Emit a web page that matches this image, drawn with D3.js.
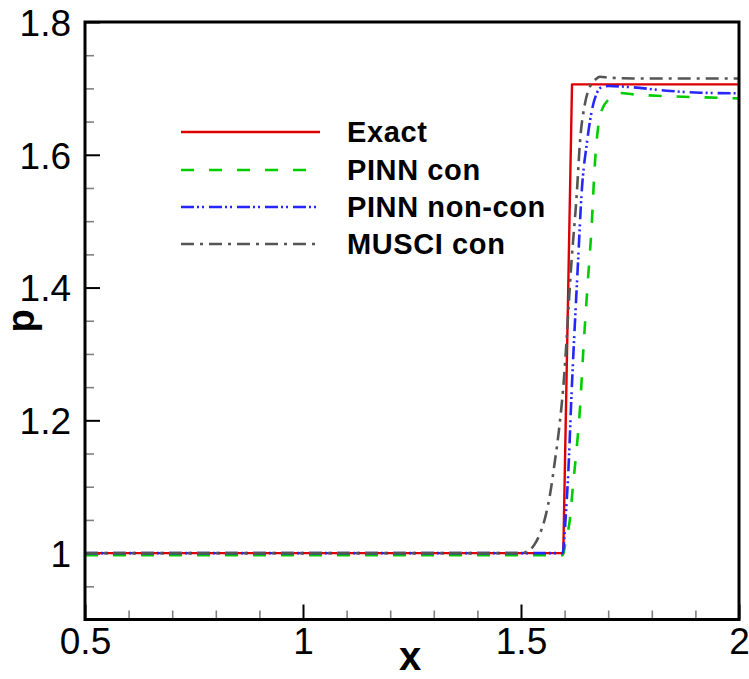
<!DOCTYPE html>
<html>
<head>
<meta charset="utf-8">
<script src="https://cdn.jsdelivr.net/npm/d3@7"></script>
<style>
  html, body { margin: 0; padding: 0; background: #fff; }
  svg { display: block; }
  text { font-family: "Liberation Sans", Arial, sans-serif; }
</style>
</head>
<body>
<svg id="chart" width="749" height="679"></svg>
<script>
// Pressure across the shock: exact solution vs. PINN and MUSCl results
const exactX = [0.5, 1.597, 1.617, 2.0];
const exactP = [1.0, 1.0, 1.706, 1.706];

const pinnConX = [0.5, 1.596, 1.603, 1.612, 1.619, 1.628, 1.635, 1.643, 1.654, 1.662, 1.669, 1.677, 1.685, 1.704, 1.727, 1.757, 1.826, 1.911, 2.0];
const pinnConP = [0.997, 0.997, 1.02, 1.05, 1.10, 1.16, 1.215, 1.306, 1.416, 1.492, 1.582, 1.642, 1.667, 1.685, 1.693, 1.691, 1.6885, 1.6866, 1.685];

const pinnNonX = [0.5, 1.596, 1.599, 1.603, 1.608, 1.616, 1.631, 1.639, 1.651, 1.662, 1.674, 1.685, 1.700, 1.757, 1.834, 1.911, 2.0];
const pinnNonP = [1.0, 1.0, 1.02, 1.06, 1.115, 1.241, 1.441, 1.542, 1.617, 1.665, 1.693, 1.702, 1.7036, 1.7016, 1.6965, 1.6935, 1.6926];

const musclX = [0.5, 1.50, 1.513, 1.53, 1.544, 1.556, 1.567, 1.577, 1.587, 1.597, 1.616, 1.628, 1.635, 1.647, 1.658, 1.670, 1.681, 1.704, 1.757, 2.0];
const musclP = [1.0, 1.0, 1.002, 1.012, 1.03, 1.055, 1.09, 1.135, 1.185, 1.25, 1.441, 1.542, 1.617, 1.678, 1.7025, 1.713, 1.7176, 1.716, 1.715, 1.715];

const seriesNames = ["Exact", "PINN con", "PINN non-con", "MUSCI con"];
const xMajorTicks = [0.5, 1, 1.5, 2];
const yMajorTicks = [1, 1.2, 1.4, 1.6, 1.8];
const xTickLabels = ["0.5", "1", "1.5", "2"];
const yTickLabels = ["1", "1.2", "1.4", "1.6", "1.8"];

const series = [
  { name: seriesNames[0], xs: exactX,   ys: exactP,   color: "#dd0000", dash: null,           width: 2.4, smooth: false },
  { name: seriesNames[1], xs: pinnConX, ys: pinnConP, color: "#00cc00", dash: "13,15",        width: 2.6, smooth: true },
  { name: seriesNames[2], xs: pinnNonX, ys: pinnNonP, color: "#2626ff", dash: "13,3,2,3,2,5", width: 2.6, smooth: true },
  { name: seriesNames[3], xs: musclX,   ys: musclP,   color: "#555555", dash: "13,6,3,6",     width: 2.6, smooth: true }
];

const svg = d3.select("#chart");
const L = 85, R = 739, T = 22, B = 619.5;

const x = d3.scaleLinear().domain([0.5, 2]).range([L, R]);
const y = d3.scaleLinear().domain([0.9, 1.8]).range([B, T]);

svg.append("defs").append("clipPath").attr("id", "plotClip")
  .append("rect").attr("x", L).attr("y", T).attr("width", R - L).attr("height", B - T);

// minor ticks every 0.1 in x and 0.05 in p, pointing inward
const xMinor = d3.range(5, 21).map(d => d / 10).filter(v => !xMajorTicks.some(m => Math.abs(m - v) < 1e-9));
const yMinor = d3.range(18, 37).map(d => d / 20).filter(v => !yMajorTicks.some(m => Math.abs(m - v) < 1e-9));

const xAxisMinor = d3.axisBottom(x).tickValues(xMinor).tickSize(-9).tickFormat("");
const yAxisMinor = d3.axisLeft(y).tickValues(yMinor).tickSize(-9).tickFormat("");
const xAxisMajor = d3.axisBottom(x).tickValues(xMajorTicks).tickSize(-15)
  .tickFormat((d, i) => xTickLabels[i]);
const yAxisMajor = d3.axisLeft(y).tickValues(yMajorTicks).tickSize(-15)
  .tickFormat((d, i) => yTickLabels[i]);

function styleAxis(g, color, w) {
  g.select(".domain").remove();
  g.selectAll(".tick line").attr("stroke", color).attr("stroke-width", w);
}

svg.append("g").attr("transform", `translate(0,${B})`).call(xAxisMinor).call(g => styleAxis(g, "#808080", 1.6));
svg.append("g").attr("transform", `translate(${L},0)`).call(yAxisMinor).call(g => styleAxis(g, "#808080", 1.6));

const gx = svg.append("g").attr("transform", `translate(0,${B})`).call(xAxisMajor).call(g => styleAxis(g, "#000", 2));
gx.selectAll(".tick text").attr("font-size", 37).attr("fill", "#000")
  .attr("font-family", "'Liberation Sans', Arial, sans-serif").attr("dy", "0.71em").attr("y", 8);

const gy = svg.append("g").attr("transform", `translate(${L},0)`).call(yAxisMajor).call(g => styleAxis(g, "#000", 2));
gy.selectAll(".tick text").attr("font-size", 37).attr("fill", "#000")
  .attr("font-family", "'Liberation Sans', Arial, sans-serif").attr("x", -14).attr("dy", "0.36em");

// data lines
const plot = svg.append("g").attr("clip-path", "url(#plotClip)");
series.forEach(s => {
  const pts = s.xs.map((v, i) => [v, s.ys[i]]);
  const line = d3.line().x(d => x(d[0])).y(d => y(d[1]));
  if (s.smooth) line.curve(d3.curveMonotoneX);
  plot.append("path")
    .datum(pts)
    .attr("fill", "none")
    .attr("stroke", s.color)
    .attr("stroke-width", s.width)
    .attr("stroke-dasharray", s.dash)
    .attr("stroke-linejoin", "round")
    .attr("d", line);
});

// frame
svg.append("rect").attr("x", L).attr("y", T).attr("width", R - L).attr("height", B - T)
  .attr("fill", "none").attr("stroke", "#000").attr("stroke-width", 3);

// legend
const legend = svg.append("g");
const legY = [132, 170, 207, 244];
series.forEach((s, i) => {
  legend.append("line")
    .attr("x1", 181).attr("x2", 320).attr("y1", legY[i]).attr("y2", legY[i])
    .attr("stroke", s.color).attr("stroke-width", s.width)
    .attr("stroke-dasharray", s.dash);
  legend.append("text")
    .attr("x", 347).attr("y", legY[i] + 10)
    .attr("font-size", 29).attr("font-weight", "bold").attr("fill", "#000")
    .attr("letter-spacing", 0.6)
    .text(s.name);
});

// axis titles
svg.append("text").attr("x", 410).attr("y", 670).attr("text-anchor", "middle")
  .attr("font-size", 40).attr("font-weight", "bold").text("x");
svg.append("text")
  .attr("transform", "translate(34,321) rotate(-90)")
  .attr("text-anchor", "middle")
  .attr("font-size", 38).attr("font-weight", "bold").text("p");
</script>
</body>
</html>
